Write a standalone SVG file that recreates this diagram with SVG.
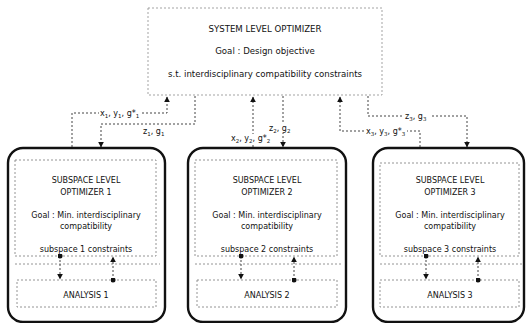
<svg xmlns="http://www.w3.org/2000/svg" width="526" height="323" viewBox="0 0 526 323">
<defs>
<marker id="arr" viewBox="0 0 10 10" refX="9" refY="5" markerWidth="6" markerHeight="6" markerUnits="userSpaceOnUse" orient="auto"><path d="M0 0 L10 5 L0 10 Z" fill="#111"/></marker>
<marker id="dot" viewBox="0 0 10 10" refX="5" refY="5" markerWidth="5" markerHeight="5" markerUnits="userSpaceOnUse"><circle cx="5" cy="5" r="5" fill="#111"/></marker>
</defs>
<style>
text{font-family:"DejaVu Sans","Verdana",sans-serif;font-size:8px;fill:#111}
.c{text-anchor:middle}
.s{font-size:8.6px}
.sub{font-size:5.5px}
.box{fill:none;stroke:#111;stroke-width:2.4}
.inner{fill:none;stroke:#888;stroke-width:0.9;stroke-dasharray:2 2}
.sys{fill:#fff;stroke:#999;stroke-width:0.9;stroke-dasharray:2 2}
.con{fill:none;stroke:#444;stroke-width:1;stroke-dasharray:2 2}
.bg{fill:#fff}
</style>
<rect width="526" height="323" fill="#fff"/>
<g id="system">
<rect class="sys" x="148" y="8" width="234" height="87"/>
<text class="c s" x="265" y="32">SYSTEM LEVEL OPTIMIZER</text>
<text class="c s" x="265" y="54">Goal : Design objective</text>
<text class="c s" x="265" y="77">s.t. interdisciplinary compatibility constraints</text>
</g>
<g id="connectors">
<path class="con" d="M72 147 V113 H167 V97" marker-end="url(#arr)"/>
<path class="con" d="M195 96 V124 H101 V147" marker-end="url(#arr)"/>
<path class="con" d="M283 96 V147" marker-end="url(#arr)"/>
<path class="con" d="M253 147 V97" marker-end="url(#arr)"/>
<path class="con" d="M368 96 V116 H467 V147" marker-end="url(#arr)"/>
<path class="con" d="M420 147 V131 H340 V97" marker-end="url(#arr)"/>
<rect class="bg" x="99" y="108" width="43" height="10"/>
<text x="100" y="116">x<tspan class="sub" dy="1.5">1</tspan><tspan dy="-1.5">, y</tspan><tspan class="sub" dy="1.5">1</tspan><tspan dy="-1.5">, g*</tspan><tspan class="sub" dy="1.5">1</tspan></text>
<text x="143" y="134">z<tspan class="sub" dy="1.5">1</tspan><tspan dy="-1.5">, g</tspan><tspan class="sub" dy="1.5">1</tspan></text>
<rect class="bg" x="268" y="124" width="24" height="9"/>
<text x="269" y="131">z<tspan class="sub" dy="1.5">2</tspan><tspan dy="-1.5">, g</tspan><tspan class="sub" dy="1.5">2</tspan></text>
<rect class="bg" x="230" y="134" width="42" height="9"/>
<text x="231" y="141">x<tspan class="sub" dy="1.5">2</tspan><tspan dy="-1.5">, y</tspan><tspan class="sub" dy="1.5">2</tspan><tspan dy="-1.5">, g*</tspan><tspan class="sub" dy="1.5">2</tspan></text>
<rect class="bg" x="403" y="111" width="27" height="9"/>
<text x="405" y="119">z<tspan class="sub" dy="1.5">3</tspan><tspan dy="-1.5">, g</tspan><tspan class="sub" dy="1.5">3</tspan></text>
<rect class="bg" x="364" y="126" width="43" height="9"/>
<text x="366" y="134">x<tspan class="sub" dy="1.5">3</tspan><tspan dy="-1.5">, y</tspan><tspan class="sub" dy="1.5">3</tspan><tspan dy="-1.5">, g*</tspan><tspan class="sub" dy="1.5">3</tspan></text>
</g>
<g id="subspace1">
<rect class="box" x="8" y="148" width="157" height="174" rx="15"/>
<rect class="inner" x="15" y="160" width="141" height="96"/>
<line class="inner" x1="15" y1="264" x2="160" y2="264"/>
<rect class="inner" x="17" y="280" width="139" height="27"/>
<text class="c" x="86" y="183">SUBSPACE LEVEL</text>
<text class="c" x="86" y="195">OPTIMIZER 1</text>
<text class="c" x="86" y="218">Goal : Min. interdisciplinary</text>
<text class="c" x="86" y="229">compatibility</text>
<text class="c" x="86" y="252">subspace 1 constraints</text>
<text class="c" x="86" y="298">ANALYSIS 1</text>
<path class="con" d="M60 256 V279" marker-start="url(#dot)" marker-end="url(#arr)"/>
<path class="con" d="M113 280 V257" marker-start="url(#dot)" marker-end="url(#arr)"/>
</g>
<g id="subspace2">
<rect class="box" x="188" y="148" width="158" height="174" rx="15"/>
<rect class="inner" x="195" y="160" width="142" height="96"/>
<line class="inner" x1="195" y1="264" x2="343" y2="264"/>
<rect class="inner" x="197" y="280" width="140" height="27"/>
<text class="c" x="267" y="183">SUBSPACE LEVEL</text>
<text class="c" x="267" y="195">OPTIMIZER 2</text>
<text class="c" x="267" y="218">Goal : Min. interdisciplinary</text>
<text class="c" x="267" y="229">compatibility</text>
<text class="c" x="267" y="252">subspace 2 constraints</text>
<text class="c" x="267" y="298">ANALYSIS 2</text>
<path class="con" d="M241 256 V279" marker-start="url(#dot)" marker-end="url(#arr)"/>
<path class="con" d="M294 280 V257" marker-start="url(#dot)" marker-end="url(#arr)"/>
</g>
<g id="subspace3">
<rect class="box" x="373" y="148" width="151" height="174" rx="15"/>
<rect class="inner" x="380" y="163" width="139" height="93"/>
<line class="inner" x1="380" y1="264" x2="522" y2="264"/>
<rect class="inner" x="380" y="280" width="139" height="27"/>
<text class="c" x="450" y="183">SUBSPACE LEVEL</text>
<text class="c" x="450" y="195">OPTIMIZER 3</text>
<text class="c" x="450" y="218">Goal : Min. interdisciplinary</text>
<text class="c" x="450" y="229">compatibility</text>
<text class="c" x="450" y="252">subspace 3 constraints</text>
<text class="c" x="450" y="298">ANALYSIS 3</text>
<path class="con" d="M426 256 V279" marker-start="url(#dot)" marker-end="url(#arr)"/>
<path class="con" d="M478 280 V257" marker-start="url(#dot)" marker-end="url(#arr)"/>
</g>
</svg>
